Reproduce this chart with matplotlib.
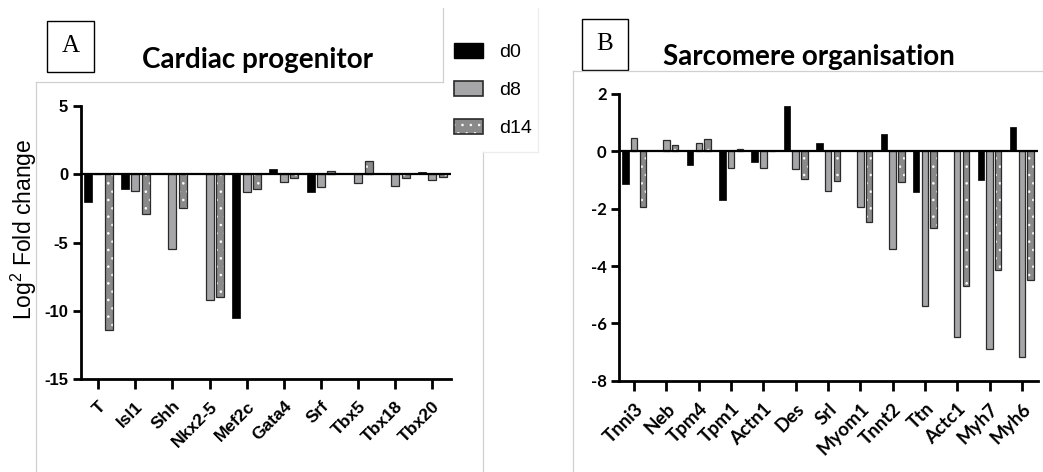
import matplotlib
matplotlib.use("Agg")
import matplotlib.pyplot as plt
import numpy as np
from matplotlib.lines import Line2D
from matplotlib.patches import Patch, Rectangle
from matplotlib.legend_handler import HandlerTuple

plt.rcParams["mathtext.fontset"] = "custom"
plt.rcParams["mathtext.rm"] = "Liberation Sans"
plt.rcParams["mathtext.default"] = "regular"
plt.rcParams["hatch.linewidth"] = 0.6
plt.rcParams["axes.unicode_minus"] = False

# log2 fold change, cardiac progenitor markers
genes_a = ["T", "Isl1", "Shh", "Nkx2-5", "Mef2c", "Gata4", "Srf", "Tbx5", "Tbx18", "Tbx20"]
a_d0 = [-2.05, -1.05, 0, 0, -10.5, 0.37, -1.27, 0, 0, 0.15]
a_d8 = [0, -1.2, -5.45, -9.2, -1.32, -0.59, -0.9, -0.63, -0.83, -0.39]
a_d14 = [-11.4, -2.9, -2.5, -8.95, -1.07, -0.29, 0.24, 0.98, -0.27, -0.22]

# log2 fold change, sarcomere genes
genes_b = ["Tnni3", "Neb", "Tpm4", "Tpm1", "Actn1", "Des", "Srl", "Myom1",
           "Tnnt2", "Ttn", "Actc1", "Myh7", "Myh6"]
b_d0 = [-1.13, 0, -0.48, -1.7, -0.36, 1.58, 0.3, 0, 0.6, -1.43, 0, -1.01, 0.84]
b_d8 = [0.45, 0.38, 0.3, -0.58, -0.58, -0.6, -1.37, -1.93, -3.4, -5.4, -6.47, -6.88, -7.17]
b_d14 = [-1.95, 0.21, 0.43, 0.08, 0, -0.95, -1.02, -2.47, -1.07, -2.69, -4.71, -4.15, -4.5]

days = ["d0", "d8", "d14"]

C8 = "#a6a6a8"
C14 = "#8a8a8a"
EDGE = "#2a2a2a"
W, H = 1043, 472

fig = plt.figure(figsize=(10.43, 4.72), dpi=100)


def box(l, t, r, b):
    return [l / W, 1 - b / H, (r - l) / W, (b - t) / H]


def frame_line(xs, ys, col="#d0d0d0"):
    fig.add_artist(Line2D(np.array(xs) / W, 1 - np.array(ys) / H, color=col,
                          lw=0.9, transform=fig.transFigure))


def draw_bars(ax, d0, d8, d14, width, off):
    x = np.arange(len(d0))
    ax.bar(x - off, d0, width, color="black", edgecolor="black", lw=0.5, zorder=3)
    ax.bar(x, d8, width, color=C8, edgecolor=EDGE, lw=0.9, zorder=3)
    ax.bar(x + off, d14, width, color=C14, edgecolor="white", hatch="..", lw=0, zorder=3)
    ax.bar(x + off, d14, width, fill=False, edgecolor=EDGE, lw=0.9, zorder=4)
    ax.axhline(0, color="black", lw=1.6, zorder=5)


def style_axis(ax, n, labels, font, size, xsize):
    for s in ["top", "right"]:
        ax.spines[s].set_visible(False)
    for s in ["left", "bottom"]:
        ax.spines[s].set_linewidth(2)
    ax.set_xlim(-0.47, n - 0.5)
    ax.set_xticks(np.arange(n))
    ax.set_xticklabels(labels, rotation=45, ha="right", rotation_mode="anchor",
                       fontfamily=font, fontweight="bold", fontsize=xsize)
    ax.tick_params(axis="x", length=7, width=2, pad=7)
    ax.tick_params(axis="y", length=6, width=2, pad=3)
    for t in ax.get_yticklabels():
        t.set_fontfamily(font)
        t.set_fontweight("bold")
        t.set_fontsize(size)


# panel A
axA = fig.add_axes(box(80.7, 106, 451, 379.2))
draw_bars(axA, a_d0, a_d8, a_d14, 0.215, 0.28)
axA.set_ylim(-15, 5)
axA.set_yticks([5, 0, -5, -10, -15])
style_axis(axA, len(genes_a), genes_a, "Liberation Sans", 12, 12.5)

# panel B
axB = fig.add_axes(box(619, 94, 1038, 380.7))
draw_bars(axB, b_d0, b_d8, b_d14, 0.2, 0.27)
axB.set_ylim(-8, 2)
axB.set_yticks([2, 0, -2, -4, -6, -8])
style_axis(axB, len(genes_b), genes_b, "Lato", 12, 13.5)

fig.text(24 / W, 1 - 229 / H, r"Log$^2$ Fold change", rotation=90, ha="center",
         va="center", fontfamily="Liberation Sans", fontsize=16.5)

# titles and panel letters
fig.text(258 / W, 1 - 68 / H, "Cardiac progenitor", fontfamily="Lato",
         fontweight="bold", fontsize=20, ha="center", va="baseline")
fig.text(809 / W, 1 - 65 / H, "Sarcomere organisation", fontfamily="Lato",
         fontweight="bold", fontsize=20, ha="center", va="baseline")
for letter, (l, t, r, b) in [("A", (46.5, 21, 94, 72)), ("B", (581.7, 19, 628, 70))]:
    fig.add_artist(Rectangle((l / W, 1 - b / H), (r - l) / W, (b - t) / H, fill=False,
                             edgecolor="black", lw=1, transform=fig.transFigure))
    fig.text((l + r) / 2 / W, 1 - (t + b) / 2 / H, letter, fontfamily="Liberation Serif",
             fontsize=18, ha="center", va="center")

# panel frames
frame_line([443, 443], [8, 82])
frame_line([36, 443], [82, 82])
frame_line([36, 36], [82, 472])
frame_line([483, 483], [152, 472])
frame_line([538, 538], [8, 152], "#ececec")
frame_line([483, 538], [152, 152], "#ececec")
frame_line([572.7, 1043], [70.7, 70.7])
frame_line([572.7, 572.7], [70.7, 472])

handles = [
    Patch(facecolor="black", edgecolor="black"),
    Patch(facecolor=C8, edgecolor=EDGE, lw=1.2),
    (Patch(facecolor=C14, edgecolor="white", hatch="..", lw=0),
     Patch(fill=False, edgecolor=EDGE, lw=1.2)),
]
fig.legend(handles, days, loc="upper left", bbox_to_anchor=(454 / W, 1 - 43 / H),
           frameon=False, handlelength=1.5, handleheight=0.78,
           handletextpad=0.8, labelspacing=1.03, borderpad=0, borderaxespad=0,
           prop={"family": "Liberation Sans", "size": 14},
           handler_map={tuple: HandlerTuple(ndivide=1, pad=0)})

fig.savefig("out.png", dpi=100, facecolor="white")
